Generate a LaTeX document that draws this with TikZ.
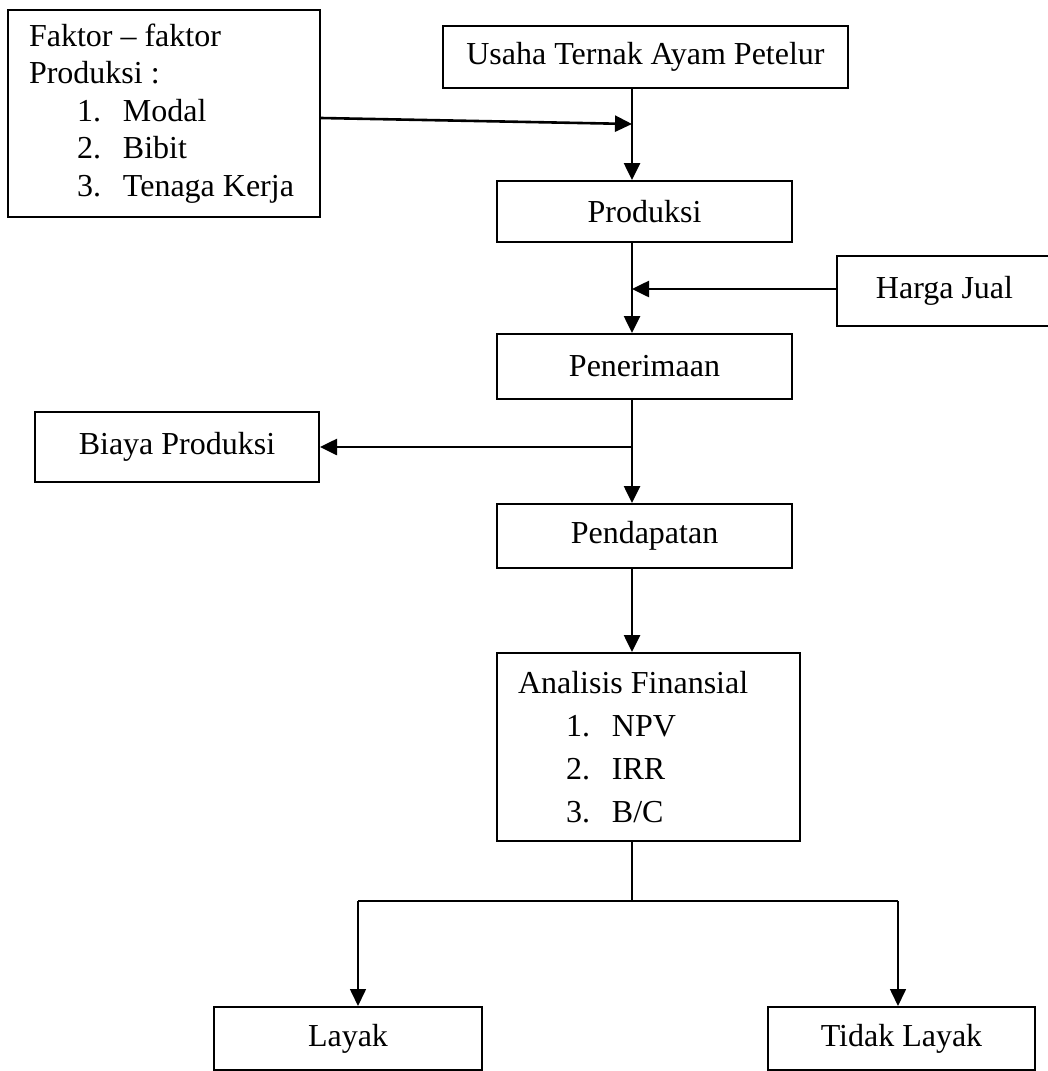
\documentclass[tikz,border=0pt]{standalone}
\usepackage{fontspec}
\setmainfont{Liberation Serif}
\usetikzlibrary{arrows.meta}
\tikzset{
  box/.style={draw, line width=2pt, inner sep=0pt, align=center,
    font=\fontsize{32}{37.5}\selectfont},
  listbox/.style={box, align=flush left, text width=#1, inner xsep=21pt},
  flow/.style={line width=2.6pt, -{Triangle[length=17pt,width=16pt]}},
  branch/.style={line width=1.6pt}
}
\newcommand{\listitem}[2]{\hspace*{48pt}\makebox[46pt][l]{#1}#2}
\begin{document}
\begin{tikzpicture}[x=1pt,y=-1pt]
      \useasboundingbox (0,0) rectangle (1047,1071);
      \node[listbox=270pt, minimum height=207pt] (faktor) at (164,113.5)
        {Faktor -- faktor\\ Produksi :\\ \listitem{1.}{Modal}\\
         \listitem{2.}{Bibit}\\ \listitem{3.}{Tenaga Kerja}};
      \node[box, minimum width=405pt, minimum height=62pt] (usaha) at (645.5,57) {Usaha Ternak Ayam Petelur};
      \node[box, minimum width=295pt, minimum height=61pt] (produksi) at (644.5,211.5) {Produksi};
      \node[box, minimum width=215pt, minimum height=70pt] (harga) at (944.5,291) {Harga Jual};
      \node[box, minimum width=295pt, minimum height=65pt] (penerimaan) at (644.5,366.5) {Penerimaan};
      \node[box, minimum width=284pt, minimum height=70pt] (biaya) at (177,447) {Biaya Produksi};
      \node[box, minimum width=295pt, minimum height=64pt] (pendapatan) at (644.5,536) {Pendapatan};
      \node[listbox=261pt, minimum height=188pt, font=\fontsize{32}{43}\selectfont] (analisis) at (648.5,747)
        {Analisis Finansial\\ \listitem{1.}{NPV}\\ \listitem{2.}{IRR}\\ \listitem{3.}{B/C}};
      \node[box, minimum width=268pt, minimum height=63pt] (layak) at (348,1038.5) {Layak};
      \node[box, minimum width=267pt, minimum height=63pt] (tidak) at (901.5,1038.5) {Tidak Layak};
      % junctions on the main line
      \coordinate (spine) at (632,0);
      \coordinate (fin) at (632,124);
      \coordinate (hin) at (632,289);
      \coordinate (bout) at (632,447);
      \coordinate (split) at (632,901);
      \coordinate (lsplit) at (358,901);
      \coordinate (rsplit) at (898,901);
      \begin{scope}[flow]
        \draw ([yshift=-4.5pt]faktor.east) -- (fin);
        \draw (usaha.south -| spine) -- (produksi.north -| spine);
        \draw ([yshift=2pt]harga.west) -- (hin);
        \draw (produksi.south -| spine) -- (penerimaan.north -| spine);
        \draw (bout) -- (biaya.east);
        \draw (penerimaan.south -| spine) -- (pendapatan.north -| spine);
        \draw (pendapatan.south -| spine) -- (analisis.north -| spine);
      \end{scope}
      \begin{scope}[branch]
        \draw (analisis.south -| spine) -- (split);
        \draw (lsplit) -- (rsplit);
        \draw[-{Triangle[length=17pt,width=16pt]}] (lsplit) -- (layak.north -| lsplit);
        \draw[-{Triangle[length=17pt,width=16pt]}] (rsplit) -- (tidak.north -| rsplit);
      \end{scope}
    \end{tikzpicture}
\end{document}
